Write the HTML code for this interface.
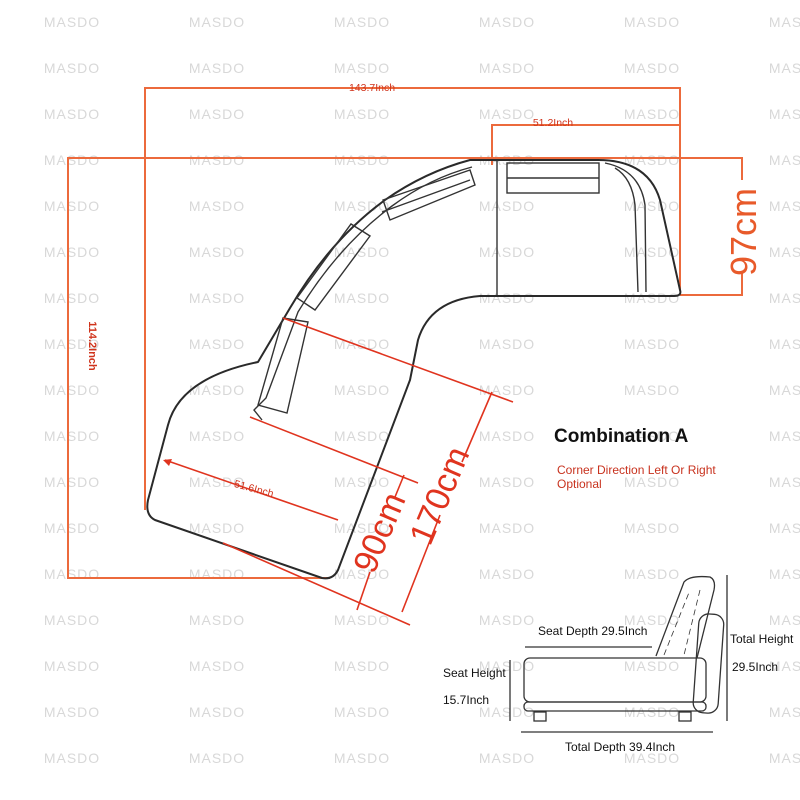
<!DOCTYPE html>
<html><head><meta charset="utf-8"><style>
html,body{margin:0;padding:0;background:#fff}
svg{display:block}
.wm{font-family:"Liberation Sans",sans-serif;font-size:14px;fill:#d8d8d8;letter-spacing:1px}
.k{fill:none;stroke:#2a2a2a;stroke-width:2;stroke-linejoin:round;stroke-linecap:round}
.kt{fill:none;stroke:#333;stroke-width:1.4}
.o{fill:none;stroke:#ec6a3c;stroke-width:2}
.r{fill:none;stroke:#e0341f;stroke-width:1.6}
.t{font-family:"Liberation Sans",sans-serif;fill:#111}
</style></head><body>
<svg width="800" height="800" viewBox="0 0 800 800" xmlns="http://www.w3.org/2000/svg">
<g class="wm" text-anchor="middle">
<text x="72" y="27">MASDO</text><text x="217" y="27">MASDO</text><text x="362" y="27">MASDO</text><text x="507" y="27">MASDO</text><text x="652" y="27">MASDO</text><text x="797" y="27">MASDO</text>
<text x="72" y="73">MASDO</text><text x="217" y="73">MASDO</text><text x="362" y="73">MASDO</text><text x="507" y="73">MASDO</text><text x="652" y="73">MASDO</text><text x="797" y="73">MASDO</text>
<text x="72" y="119">MASDO</text><text x="217" y="119">MASDO</text><text x="362" y="119">MASDO</text><text x="507" y="119">MASDO</text><text x="652" y="119">MASDO</text><text x="797" y="119">MASDO</text>
<text x="72" y="165">MASDO</text><text x="217" y="165">MASDO</text><text x="362" y="165">MASDO</text><text x="507" y="165">MASDO</text><text x="652" y="165">MASDO</text><text x="797" y="165">MASDO</text>
<text x="72" y="211">MASDO</text><text x="217" y="211">MASDO</text><text x="362" y="211">MASDO</text><text x="507" y="211">MASDO</text><text x="652" y="211">MASDO</text><text x="797" y="211">MASDO</text>
<text x="72" y="257">MASDO</text><text x="217" y="257">MASDO</text><text x="362" y="257">MASDO</text><text x="507" y="257">MASDO</text><text x="652" y="257">MASDO</text><text x="797" y="257">MASDO</text>
<text x="72" y="303">MASDO</text><text x="217" y="303">MASDO</text><text x="362" y="303">MASDO</text><text x="507" y="303">MASDO</text><text x="652" y="303">MASDO</text><text x="797" y="303">MASDO</text>
<text x="72" y="349">MASDO</text><text x="217" y="349">MASDO</text><text x="362" y="349">MASDO</text><text x="507" y="349">MASDO</text><text x="652" y="349">MASDO</text><text x="797" y="349">MASDO</text>
<text x="72" y="395">MASDO</text><text x="217" y="395">MASDO</text><text x="362" y="395">MASDO</text><text x="507" y="395">MASDO</text><text x="652" y="395">MASDO</text><text x="797" y="395">MASDO</text>
<text x="72" y="441">MASDO</text><text x="217" y="441">MASDO</text><text x="362" y="441">MASDO</text><text x="507" y="441">MASDO</text><text x="652" y="441">MASDO</text><text x="797" y="441">MASDO</text>
<text x="72" y="487">MASDO</text><text x="217" y="487">MASDO</text><text x="362" y="487">MASDO</text><text x="507" y="487">MASDO</text><text x="652" y="487">MASDO</text><text x="797" y="487">MASDO</text>
<text x="72" y="533">MASDO</text><text x="217" y="533">MASDO</text><text x="362" y="533">MASDO</text><text x="507" y="533">MASDO</text><text x="652" y="533">MASDO</text><text x="797" y="533">MASDO</text>
<text x="72" y="579">MASDO</text><text x="217" y="579">MASDO</text><text x="362" y="579">MASDO</text><text x="507" y="579">MASDO</text><text x="652" y="579">MASDO</text><text x="797" y="579">MASDO</text>
<text x="72" y="625">MASDO</text><text x="217" y="625">MASDO</text><text x="362" y="625">MASDO</text><text x="507" y="625">MASDO</text><text x="652" y="625">MASDO</text><text x="797" y="625">MASDO</text>
<text x="72" y="671">MASDO</text><text x="217" y="671">MASDO</text><text x="362" y="671">MASDO</text><text x="507" y="671">MASDO</text><text x="652" y="671">MASDO</text><text x="797" y="671">MASDO</text>
<text x="72" y="717">MASDO</text><text x="217" y="717">MASDO</text><text x="362" y="717">MASDO</text><text x="507" y="717">MASDO</text><text x="652" y="717">MASDO</text><text x="797" y="717">MASDO</text>
<text x="72" y="763">MASDO</text><text x="217" y="763">MASDO</text><text x="362" y="763">MASDO</text><text x="507" y="763">MASDO</text><text x="652" y="763">MASDO</text><text x="797" y="763">MASDO</text>
</g>

<!-- orange dimension frames -->
<path class="o" d="M145 510 V88 H680 V290"/>
<path class="o" d="M492 165 V125 H680"/>
<path class="o" d="M330 578 H68 V158 H742 V180 M742 272 V295 H680"/>
<text x="372" y="91" class="t" font-size="10.5" style="fill:#d0341c" text-anchor="middle">143.7Inch</text>
<text x="553" y="126" class="t" font-size="10.5" style="fill:#d0341c" text-anchor="middle">51.2Inch</text>
<text transform="translate(89,346) rotate(90)" class="t" font-size="11" font-weight="bold" style="fill:#d0341c" text-anchor="middle">114.2Inch</text>
<text transform="translate(756,232) rotate(-90)" class="t" font-size="36" style="fill:#e85a2a" text-anchor="middle">97cm</text>

<!-- sofa plan -->
<path class="k" d="M470 160 H598 Q648 160 660 200 L680 290 Q682 296 674 296 H480 Q430 300 418 340 L410 380 L338 570 Q333 580 322 578 L155 520 Q145 515 148 500 L168 425 Q180 378 258 362 L290 308 Q330 240 385 200 Q425 172 470 160 Z"/>
<path class="kt" d="M497 160 V295"/>
<path class="kt" d="M472 167 Q430 178 392 206 Q338 246 298 312 L266 398 L254 410 L262 420"/>
<path class="kt" d="M605 163 Q640 170 645 205 L646 292 M615 168 Q632 178 635 205 L638 292"/>
<rect x="507" y="163" width="92" height="30" class="kt"/>
<path class="kt" d="M507 178 H599"/>
<path class="kt" d="M383 200 L470 170 L475 185 L390 220 Z M382 212 L470 180"/>
<path class="kt" d="M297 298 L351 224 L370 236 L315 310 Z"/>
<path class="kt" d="M283 318 L308 322 L287 413 L258 405 Z"/>

<!-- red measurements -->
<path class="r" d="M283 318 L513 402 M250 417 L418 483 M223 543 L410 625"/>
<path class="r" d="M492 392 L462 462 M440 515 L402 612 M404 475 L395 497 M370 572 L357 610"/>
<text transform="translate(450,500) rotate(-67)" class="t" font-size="34" style="fill:#e0341f" text-anchor="middle">170cm</text>
<text transform="translate(390,537) rotate(-67)" class="t" font-size="34" style="fill:#e0341f" text-anchor="middle">90cm</text>
<path class="r" d="M165 460 L338 520"/>
<path d="M163 460 L172 459 L169 466 Z" fill="#e0341f"/>
<text transform="translate(253,492) rotate(15)" class="t" font-size="10.5" style="fill:#d0341c" text-anchor="middle">51.6Inch</text>

<!-- labels -->
<text x="554" y="442" class="t" font-size="19" font-weight="bold">Combination A</text>
<text x="557" y="474" class="t" font-size="12" style="fill:#c8321e">Corner Direction Left Or Right</text>
<text x="557" y="488" class="t" font-size="12" style="fill:#c8321e">Optional</text>

<!-- side view -->
<g fill="none" stroke="#333" stroke-width="1.3">
<path d="M656 656 L684 582 Q690 575 710 577 Q716 580 714 590 L697 658"/>
<path d="M664 655 L690 590 M700 590 L684 655" stroke-dasharray="6 4" stroke-width="0.8"/>
<rect x="524" y="658" width="182" height="44" rx="6"/>
<rect x="524" y="702" width="182" height="9" rx="4"/>
<rect x="696" y="614" width="25" height="99" rx="10" transform="rotate(4 708 663)"/>
<rect x="534" y="712" width="12" height="9"/><rect x="679" y="712" width="12" height="9"/>
<path d="M525 647 H652 M510 660 V721 M727 575 V721 M521 732 H713"/>
</g>
<text x="538" y="635" class="t" font-size="12">Seat Depth 29.5Inch</text>
<text x="443" y="677" class="t" font-size="12">Seat Height</text>
<text x="443" y="704" class="t" font-size="12">15.7Inch</text>
<text x="730" y="643" class="t" font-size="12">Total Height</text>
<text x="732" y="671" class="t" font-size="12">29.5Inch</text>
<text x="565" y="751" class="t" font-size="12">Total Depth 39.4Inch</text>
</svg>
</body></html>
